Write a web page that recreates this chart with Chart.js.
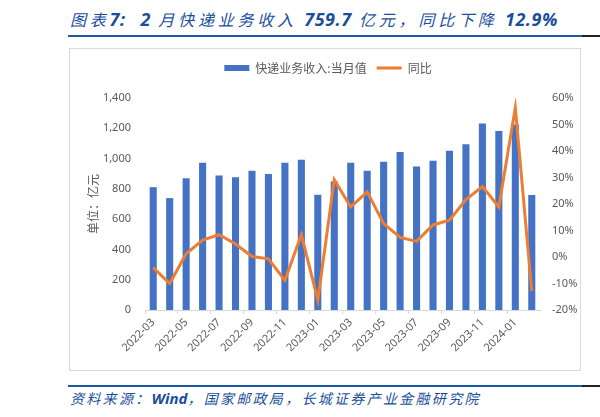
<!DOCTYPE html>
<html>
<head>
<meta charset="utf-8">
<script src="https://cdn.jsdelivr.net/npm/chart.js@4.4.1/dist/chart.umd.min.js"></script>
<style>
    body { margin: 0; width: 600px; height: 417px; background: #fff; position: relative; overflow: hidden;
           font-family: "Noto Sans CJK SC", sans-serif; }
    .head { position: absolute; left: 70px; white-space: nowrap; font-style: italic; color: #1a4f9c; }
    .head b { font-family: "Noto Sans", sans-serif; font-weight: bold; letter-spacing: 0; }
    #title { top: 7px; font-size: 16px; letter-spacing: 3.8px; line-height: 24px; }
    #title b { font-size: 18px; letter-spacing: 0.5px; }
    #source { top: 387px; font-size: 14px; letter-spacing: 2.3px; line-height: 22px; }
    #source b { font-size: 15px; }
    .rule { position: absolute; left: 68px; width: 514px; height: 2px; background: #1c5aa8; }
    .rule::after { content: ""; position: absolute; left: 514px; top: 0; width: 18px; height: 2px; background: #222; }
    #box { position: absolute; left: 69px; top: 48px; width: 510px; height: 321px; border: 1px solid #d9d9d9; }
</style>
</head>
<body>
<div id="title" class="head">图表<b>7:</b>&nbsp; <b>2</b> 月快递业务收入 <b>759.7</b> 亿元，同比下降 <b>12.9%</b></div>
<div class="rule" style="top:35px"></div>
<div id="box"><canvas id="diagram" width="510" height="321"></canvas></div>
<div class="rule" style="top:385px"></div>
<div id="source" class="head">资料来源：<b>Wind</b>，国家邮政局，长城证券产业金融研究院</div>

<script type="text/javascript">
    // chart data
    var months = ["2022-03", "2022-04", "2022-05", "2022-06", "2022-07", "2022-08", "2022-09", "2022-10",
                  "2022-11", "2022-12", "2023-01", "2023-02", "2023-03", "2023-04", "2023-05", "2023-06",
                  "2023-07", "2023-08", "2023-09", "2023-10", "2023-11", "2023-12", "2024-01", "2024-02"];
    var revenue = [811, 739, 870, 972, 889, 876, 920, 898, 972, 992, 761, 848,
                   972, 920, 979, 1044, 948, 985, 1051, 1094, 1232, 1182, 1225, 759.7];
    var yoy = [-4.0, -10.0, 1.2, 6.4, 8.4, 4.9, 0.2, -0.7, -8.8, 8.4, -16.3, 29.2,
               18.9, 24.6, 12.6, 7.4, 5.9, 12.1, 13.9, 21.7, 26.6, 18.9, 56.3, -12.9];
    var revenueTicks = [0, 1400, 200];   // min, max, step
    var yoyTicks = [-20, 60, 10];

    var grey = "#595959";
    var tickFont = { family: '"Noto Sans", "Noto Sans CJK SC", sans-serif', size: 11 };

    // extra room between the legend and the plot
    var legendGap = {
        id: "legendGap",
        beforeInit: function(chart) {
            var fit = chart.legend.fit;
            chart.legend.fit = function() {
                fit.bind(chart.legend)();
                this.height += 14;
            };
        }
    };

    var ctx = document.getElementById("diagram");
    var myChart = new Chart(ctx, {
        type: "bar",
        data: {
            labels: months,
            datasets: [{
                label: "快递业务收入:当月值",
                data: revenue,
                backgroundColor: "#4472c4",
                borderWidth: 0,
                barPercentage: 1,
                categoryPercentage: 0.43,
                pointStyle: "rect",
                yAxisID: "y",
                order: 1
            }, {
                type: "line",
                label: "同比",
                data: yoy,
                borderColor: "#ed7d31",
                backgroundColor: "#ed7d31",
                borderWidth: 3,
                pointRadius: 0,
                pointStyle: "line",
                tension: 0,
                yAxisID: "y1",
                order: 0
            }]
        },
        plugins: [legendGap],
        options: {
            responsive: false,
            devicePixelRatio: 1,
            animation: false,
            layout: { padding: { top: 3, left: 6, right: 0, bottom: 0 } },
            plugins: {
                tooltip: { enabled: false },
                legend: {
                    position: "top",
                    labels: {
                        color: grey,
                        font: { family: '"Noto Sans CJK SC", sans-serif', size: 12 },
                        usePointStyle: true,
                        pointStyleWidth: 25,
                        boxWidth: 25,
                        boxHeight: 6,
                        padding: 10,
                        sort: function(a, b) { return a.datasetIndex - b.datasetIndex; }
                    }
                }
            },
            scales: {
                x: {
                    grid: {
                        drawOnChartArea: false,
                        drawTicks: true,
                        tickLength: 4,
                        color: function(c) { return c.index % 2 === 0 ? "#d9d9d9" : "rgba(0,0,0,0)"; }
                    },
                    border: { display: true, color: "#d9d9d9" },
                    ticks: {
                        autoSkip: false,
                        minRotation: 45,
                        maxRotation: 45,
                        padding: 2,
                        color: grey,
                        font: tickFont,
                        callback: function(v, i) { return i % 2 === 0 ? months[i] : ""; }
                    },
                    afterFit: function(scale) { scale.height = 60; }
                },
                y: {
                    position: "left",
                    min: revenueTicks[0],
                    max: revenueTicks[1],
                    grid: { display: false, drawTicks: false },
                    border: { display: false },
                    ticks: {
                        stepSize: revenueTicks[2],
                        padding: 14,
                        color: grey,
                        font: tickFont,
                        callback: function(v) { return v.toLocaleString("en-US"); }
                    },
                    title: {
                        display: true,
                        text: "单位：亿元",
                        color: grey,
                        font: { family: '"Noto Sans CJK SC", sans-serif', size: 12 },
                        padding: { top: 10, bottom: 0 }
                    },
                    afterFit: function(scale) { scale.width = 69; }
                },
                y1: {
                    position: "right",
                    min: yoyTicks[0],
                    max: yoyTicks[1],
                    grid: { display: false, drawTicks: false },
                    border: { display: false },
                    ticks: {
                        stepSize: yoyTicks[2],
                        padding: 12,
                        color: grey,
                        font: tickFont,
                        callback: function(v) { return v + "%"; }
                    },
                    afterFit: function(scale) { scale.width = 40; }
                }
            }
        }
    });
</script>
</body>
</html>
